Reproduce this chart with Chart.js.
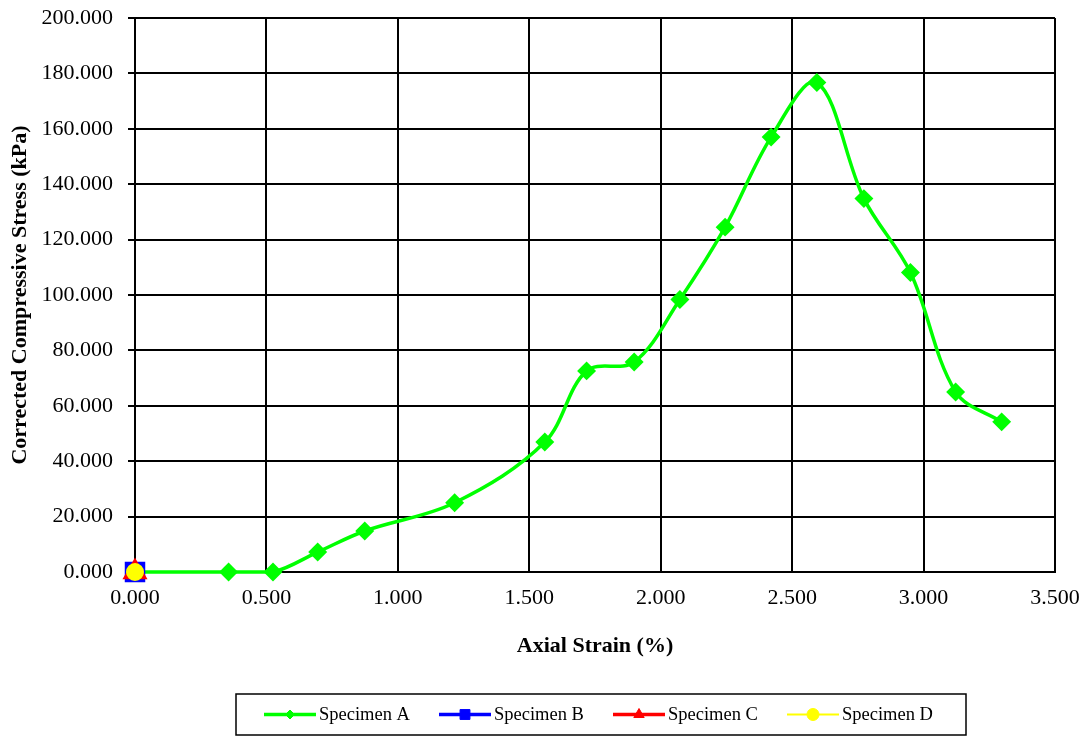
<!DOCTYPE html>
<html>

<head>
    <title>Unconfined Compression</title>
    <meta name="viewport" content="width=device-width, initial-scale=1.0">
    <script src="https://cdn.jsdelivr.net/npm/chart.js"></script>
    <style>
        html, body {
            margin: 0;
            padding: 0;
            background-color: #FFFFFF;
        }
        .chart-container {
            position: relative;
            width: 1089px;
            height: 736px;
        }
    </style>
</head>

<body>
    <div class="chart-container">
        <canvas id="stressChart"></canvas>
    </div>
</body>
<script>
    // Specimen A readings: axial strain (%) and corrected stress (kPa)
    var strainA = [0, 0.356, 0.525, 0.695, 0.874, 1.216, 1.559, 1.718, 1.899, 2.073, 2.245, 2.420, 2.594, 2.773, 2.950, 3.122, 3.297];
    var stressA = [0, 0, 0, 7.2, 14.8, 25.0, 46.9, 72.6, 75.8, 98.4, 124.5, 157.0, 176.7, 134.8, 108.1, 65.0, 54.2];

    // Specimens B, C, D only have the starting reading
    var strainB = [0];
    var stressB = [0];
    var strainC = [0];
    var stressC = [0];
    var strainD = [0];
    var stressD = [0];

    var seriesNames = ["Specimen A", "Specimen B", "Specimen C", "Specimen D"];
    var xTitle = "Axial Strain (%)";
    var yTitle = "Corrected Compressive Stress (kPa)";

    function toPoints(xs, ys) {
        return xs.map(function (x, i) { return { x: x, y: ys[i] }; });
    }

    var serif = "'Liberation Serif', 'Times New Roman', serif";

    // legend drawn by hand under the plot: line with the marker on it, then the name
    var legendBox = {
        id: "legendBox",
        afterDraw: function (chart) {
            var ctx = chart.ctx;
            var top = 694, bottom = 735, left = 236, right = 966;
            var midY = (top + bottom) / 2;
            var lines = [[264, 316], [439, 491], [613, 665], [787, 839]];
            ctx.save();
            ctx.strokeStyle = "#000000";
            ctx.lineWidth = 1.5;
            ctx.strokeRect(left, top, right - left, bottom - top);
            chart.data.datasets.forEach(function (ds, i) {
                var x0 = lines[i][0], x1 = lines[i][1];
                ctx.strokeStyle = ds.borderColor;
                ctx.lineWidth = ds.legendLineWidth;
                ctx.beginPath();
                ctx.moveTo(x0, midY);
                ctx.lineTo(x1, midY);
                ctx.stroke();
                ctx.fillStyle = ds.pointBackgroundColor;
                ctx.strokeStyle = ds.pointBorderColor;
                ctx.lineWidth = 1;
                Chart.helpers.drawPoint(ctx, {
                    pointStyle: ds.pointStyle,
                    radius: ds.legendRadius,
                    rotation: 0,
                    borderWidth: 1
                }, (x0 + x1) / 2, midY);
                ctx.fillStyle = "#000000";
                ctx.font = "18.5px " + serif;
                ctx.textAlign = "left";
                ctx.textBaseline = "middle";
                ctx.fillText(ds.label, x1 + 3, midY + 1);
            });
            ctx.restore();
        }
    };

    document.addEventListener("DOMContentLoaded", function () {
        var ctx = document.getElementById("stressChart").getContext("2d");

        var datasets = [
            {
                label: seriesNames[0],
                data: toPoints(strainA, stressA),
                borderColor: "#00FF00",
                backgroundColor: "#00FF00",
                pointBackgroundColor: "#00FF00",
                pointBorderColor: "#00FF00",
                pointStyle: "rectRot",
                pointRadius: 7,
                borderWidth: 3.5,
                tension: 0.35,
                clip: false,
                legendLineWidth: 3.5,
                legendRadius: 4.5,
                order: 4
            },
            {
                label: seriesNames[1],
                data: toPoints(strainB, stressB),
                borderColor: "#0000FF",
                backgroundColor: "#0000FF",
                pointBackgroundColor: "#0000FF",
                pointBorderColor: "#0000FF",
                pointStyle: "rect",
                pointRadius: 12,
                borderWidth: 3.5,
                clip: false,
                legendLineWidth: 3.5,
                legendRadius: 7,
                order: 3
            },
            {
                label: seriesNames[2],
                data: toPoints(strainC, stressC),
                borderColor: "#FF0000",
                backgroundColor: "#FF0000",
                pointBackgroundColor: "#FF0000",
                pointBorderColor: "#FF0000",
                pointStyle: "triangle",
                pointRadius: 11,
                borderWidth: 3.5,
                clip: false,
                legendLineWidth: 3.5,
                legendRadius: 6,
                order: 2
            },
            {
                label: seriesNames[3],
                data: toPoints(strainD, stressD),
                borderColor: "#FFFF00",
                backgroundColor: "#FFFF00",
                pointBackgroundColor: "#FFFF00",
                pointBorderColor: "#FFFF00",
                pointStyle: "circle",
                pointRadius: 8,
                borderWidth: 2,
                clip: false,
                legendLineWidth: 2,
                legendRadius: 6,
                order: 1
            }
        ];

        new Chart(ctx, {
            type: "line",
            data: { datasets: datasets },
            options: {
                responsive: true,
                maintainAspectRatio: false,
                animation: false,
                layout: {
                    padding: { left: 0, top: 0, right: 0, bottom: 76 }
                },
                plugins: {
                    legend: { display: false },
                    tooltip: { enabled: false }
                },
                elements: {
                    point: { hoverRadius: 7 }
                },
                scales: {
                    x: {
                        type: "linear",
                        min: 0,
                        max: 3.5,
                        border: { color: "#000000", width: 2 },
                        grid: {
                            color: "#000000",
                            lineWidth: 2,
                            drawTicks: false
                        },
                        ticks: {
                            stepSize: 0.5,
                            padding: 13,
                            color: "#000000",
                            font: { family: serif, size: 22 },
                            maxRotation: 0,
                            callback: function (v) { return v.toFixed(3); }
                        },
                        title: {
                            display: true,
                            text: xTitle,
                            color: "#000000",
                            font: { family: serif, size: 22, weight: "bold" },
                            padding: { top: 0, bottom: 0 }
                        },
                        afterFit: function (scale) {
                            scale.height = 88;
                            scale.paddingRight = 34;
                        }
                    },
                    y: {
                        min: 0,
                        max: 200,
                        border: { color: "#000000", width: 2 },
                        grid: {
                            color: "#000000",
                            lineWidth: 2,
                            tickLength: 7
                        },
                        ticks: {
                            stepSize: 20,
                            padding: 15,
                            color: "#000000",
                            font: { family: serif, size: 22 },
                            callback: function (v) { return v.toFixed(3); }
                        },
                        title: {
                            display: true,
                            text: yTitle,
                            color: "#000000",
                            font: { family: serif, size: 22, weight: "bold" },
                            padding: { top: 7, bottom: 0 }
                        },
                        afterFit: function (scale) {
                            scale.width = 135;
                            scale.paddingTop = 18;
                        }
                    }
                }
            },
            plugins: [legendBox]
        });
    });
</script>

</html>
